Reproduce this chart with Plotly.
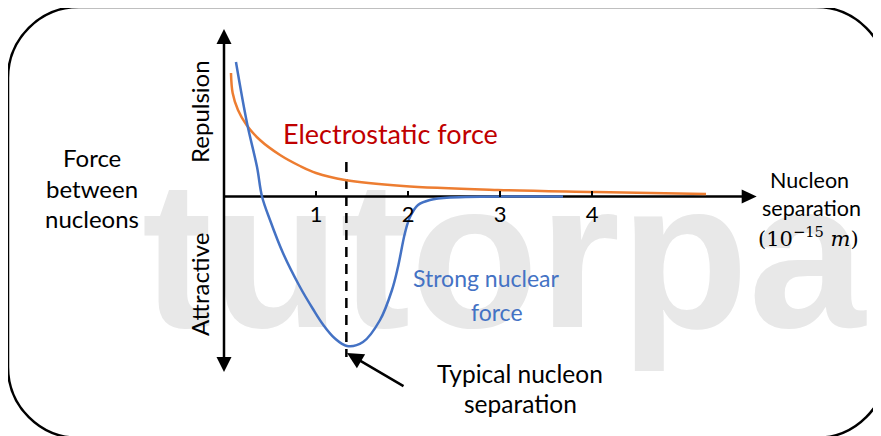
import plotly.graph_objects as go

# ---------------- data (x in 10^-15 m, y in arbitrary force units) ----------------
ELEC_X = [0.076, 0.094, 0.152, 0.245, 0.391, 0.609, 0.826, 1.0, 1.315, 1.946, 2.978, 4.043, 5.239]
ELEC_Y = [1.235, 1.035, 0.865, 0.715, 0.565, 0.415, 0.305, 0.235, 0.165, 0.105, 0.065, 0.045, 0.025]

STRONG_X = [0.130, 0.250, 0.359, 0.413, 0.5, 0.641, 0.826, 0.967, 1.076, 1.206, 1.337, 1.511,
            1.696, 1.826, 1.891, 1.967, 2.022, 2.109, 2.239, 2.457, 3.685]
STRONG_Y = [1.345, 0.735, 0.295, 0.0, -0.235, -0.565, -0.905, -1.125, -1.28, -1.42, -1.495, -1.455,
            -1.235, -0.935, -0.705, -0.365, -0.205, -0.085, -0.035, -0.01, 0.0]

TYPICAL_SEP = 1.33
TYPICAL_LINE_Y = [0.345, -1.605]

TICK_VALS = [1, 2, 3, 4]
TICK_TEXT = ["1", "2", "3", "4"]

AXIS_X_END = 5.79
AXIS_Y_TOP = 1.675
AXIS_Y_BOTTOM = -1.755

# ---------------- layout geometry ----------------
W, H = 881, 436
OFF = 8  # page body margin compensation
X0_PX, PX_PER_X = 224 - OFF, 92.0
Y0_PX, PX_PER_Y = 196.5 - OFF, 100.0
x_range = [-X0_PX / PX_PER_X, (W - X0_PX) / PX_PER_X]
y_range = [(Y0_PX - H) / PX_PER_Y, Y0_PX / PX_PER_Y]

FONT = "Lato"
BLACK = "#000000"
ORANGE = "#ED7D31"
BLUE = "#4472C4"
RED = "#C00000"


def px2d(px, py):
    return (px - OFF - X0_PX) / PX_PER_X, (Y0_PX - (py - OFF)) / PX_PER_Y


fig = go.Figure()

# watermark (drawn first so that it stays behind everything)
wx, wy = px2d(142, 274)
fig.add_trace(go.Scatter(
    x=[wx], y=[wy], mode="text", text=["tutorpa"],
    textposition="middle right",
    textfont=dict(family="Liberation Sans", size=210, color="#E8E8E8", weight="bold"),
    hoverinfo="skip", showlegend=False))

# axes lines
fig.add_trace(go.Scatter(x=[0, 0], y=[AXIS_Y_TOP - 0.1, AXIS_Y_BOTTOM + 0.1], mode="lines",
                         line=dict(color=BLACK, width=2.5), hoverinfo="skip", showlegend=False))
fig.add_trace(go.Scatter(x=[0, AXIS_X_END - 0.1], y=[0, 0], mode="lines",
                         line=dict(color=BLACK, width=2.5), hoverinfo="skip", showlegend=False))

# typical separation dashed line
fig.add_trace(go.Scatter(x=[TYPICAL_SEP, TYPICAL_SEP], y=TYPICAL_LINE_Y, mode="lines",
                         line=dict(color=BLACK, width=2.5, dash="10px,7px"),
                         hoverinfo="skip", showlegend=False))

# curves
fig.add_trace(go.Scatter(x=ELEC_X, y=ELEC_Y, mode="lines", line=dict(color=ORANGE, width=2.5, shape="spline"),
                         hoverinfo="skip", showlegend=False))
fig.add_trace(go.Scatter(x=STRONG_X, y=STRONG_Y, mode="lines", line=dict(color=BLUE, width=2.5, shape="spline"),
                         hoverinfo="skip", showlegend=False))

# arrow heads
hx = 7.5 / PX_PER_X
hy = 15 / PX_PER_Y
shapes = [
    dict(type="path", xref="x", yref="y",
         path=f"M 0,{AXIS_Y_TOP} L {-hx},{AXIS_Y_TOP - hy} L {hx},{AXIS_Y_TOP - hy} Z",
         fillcolor=BLACK, line=dict(width=0)),
    dict(type="path", xref="x", yref="y",
         path=f"M 0,{AXIS_Y_BOTTOM} L {-hx},{AXIS_Y_BOTTOM + hy} L {hx},{AXIS_Y_BOTTOM + hy} Z",
         fillcolor=BLACK, line=dict(width=0)),
    dict(type="path", xref="x", yref="y",
         path=f"M {AXIS_X_END},0 L {AXIS_X_END - 15 / PX_PER_X},{7 / PX_PER_Y} "
              f"L {AXIS_X_END - 15 / PX_PER_X},{-7 / PX_PER_Y} Z",
         fillcolor=BLACK, line=dict(width=0)),
]


# rounded frame (page pixel -> paper)
def P(x, y):
    return f"{(x - OFF) / W:.5f},{1 - (y - OFF) / H:.5f}"


L_, T_, R_, B_, r = 8, 7, 887, 438, 71
k = 0.5523 * r
frame = (f"M {P(L_ + r, T_)} L {P(R_ - r, T_)} "
         f"C {P(R_ - r + k, T_)} {P(R_, T_ + r - k)} {P(R_, T_ + r)} "
         f"L {P(R_, B_ - r)} "
         f"C {P(R_, B_ - r + k)} {P(R_ - r + k, B_)} {P(R_ - r, B_)} "
         f"L {P(L_ + r, B_)} "
         f"C {P(L_ + r - k, B_)} {P(L_, B_ - r + k)} {P(L_, B_ - r)} "
         f"L {P(L_, T_ + r)} "
         f"C {P(L_, T_ + r - k)} {P(L_ + r - k, T_)} {P(L_ + r, T_)} Z")
shapes.append(dict(type="path", xref="paper", yref="paper", path=frame,
                   line=dict(color=BLACK, width=2.5), layer="above"))

annots = []


def label(text, px, py, size, color=BLACK, angle=0, family=FONT):
    x, y = px2d(px, py)
    annots.append(dict(x=x, y=y, xref="x", yref="y", text=text, showarrow=False,
                       xanchor="center", yanchor="middle", textangle=angle,
                       font=dict(family=family, size=size, color=color)))


label("Electrostatic force", 390, 133, 27, RED)
label("Strong nuclear", 485.5, 278, 23, BLUE)
label("force", 497, 312, 23, BLUE)
label("Force", 92, 157, 24)
label("between", 92, 188, 24)
label("nucleons", 92, 218, 24)
label("Repulsion", 199, 112, 24, angle=-90)
label("Attractive", 199, 285, 24, angle=-90)
label("Nucleon", 809, 180, 21.5)
label("separation", 811, 208, 21.5)
label("(10<sup>−15</sup> <i>m</i>)", 808, 237, 21, family="DejaVu Serif")
label("Typical nucleon", 520, 373, 24.5)
label("separation", 520, 403, 24.5)

# pointer arrow to typical separation
tx, ty = px2d(347, 353)
annots.append(dict(x=tx, y=ty, xref="x", yref="y", ax=58, ay=34, axref="pixel", ayref="pixel",
                   text="", showarrow=True, arrowhead=2, arrowsize=1.3, arrowwidth=2.5, arrowcolor=BLACK))

fig.update_layout(
    width=W, height=H, margin=dict(l=0, r=0, t=0, b=0),
    paper_bgcolor="white", plot_bgcolor="white",
    xaxis=dict(range=x_range, showgrid=False, zeroline=False, showline=False,
               tickvals=TICK_VALS, ticktext=TICK_TEXT, ticks="inside", ticklen=6, tickwidth=2,
               tickcolor=BLACK, tickfont=dict(family=FONT, size=22, color=BLACK),
               ticklabelstandoff=2,
               anchor="free", position=1 - Y0_PX / H, fixedrange=True),
    yaxis=dict(range=y_range, visible=False, fixedrange=True),
    shapes=shapes, annotations=annots, showlegend=False,
)

fig.write_html("out.html")
